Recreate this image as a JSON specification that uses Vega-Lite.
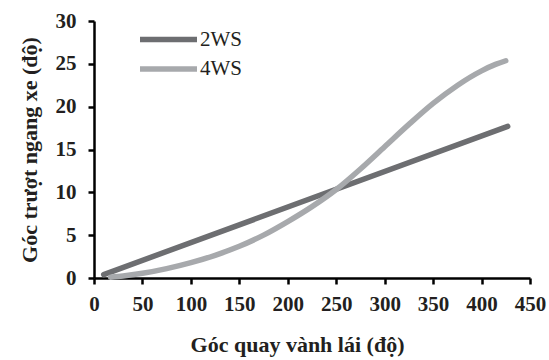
{
  "$schema": "https://vega.github.io/schema/vega-lite/v6.json",
  "width": 436,
  "height": 257,
  "autosize": {"type": "none"},
  "padding": {"left": 94, "top": 21, "right": 19, "bottom": 82},
  "background": "white",
  "config": {
    "view": {"stroke": null},
    "font": "Liberation Serif",
    "axis": {
      "grid": false,
      "domainColor": "black",
      "domainWidth": 2.5,
      "tickColor": "black",
      "tickWidth": 2.5,
      "tickSize": 6,
      "labelFlush": false,
      "labelOverlap": false,
      "labelFont": "Liberation Serif",
      "labelFontWeight": "bold",
      "labelFontSize": 21,
      "labelColor": "#231f20",
      "titleFont": "Liberation Serif",
      "titleFontWeight": "bold",
      "titleFontSize": 22,
      "titleColor": "#231f20"
    }
  },
  "data": {
    "values": [
      {"x": 10, "y": 0.4, "s": "2WS"},
      {"x": 427, "y": 17.7, "s": "2WS"},
      {"x": 17, "y": 0.1, "s": "4WS"},
      {"x": 30, "y": 0.23, "s": "4WS"},
      {"x": 50, "y": 0.55, "s": "4WS"},
      {"x": 75, "y": 1.1, "s": "4WS"},
      {"x": 100, "y": 1.8, "s": "4WS"},
      {"x": 125, "y": 2.65, "s": "4WS"},
      {"x": 150, "y": 3.7, "s": "4WS"},
      {"x": 175, "y": 5.0, "s": "4WS"},
      {"x": 200, "y": 6.58, "s": "4WS"},
      {"x": 225, "y": 8.33, "s": "4WS"},
      {"x": 250, "y": 10.33, "s": "4WS"},
      {"x": 275, "y": 12.73, "s": "4WS"},
      {"x": 300, "y": 15.33, "s": "4WS"},
      {"x": 325, "y": 17.93, "s": "4WS"},
      {"x": 350, "y": 20.38, "s": "4WS"},
      {"x": 375, "y": 22.48, "s": "4WS"},
      {"x": 400, "y": 24.18, "s": "4WS"},
      {"x": 415, "y": 24.96, "s": "4WS"},
      {"x": 425, "y": 25.36, "s": "4WS"}
    ]
  },
  "mark": {"type": "line", "strokeWidth": 5.5, "strokeCap": "round", "interpolate": "monotone"},
  "encoding": {
    "x": {
      "field": "x", "type": "quantitative",
      "scale": {"domain": [0, 450], "nice": false},
      "axis": {"values": [0, 50, 100, 150, 200, 250, 300, 350, 400, 450], "labelPadding": 9, "title": "Góc quay vành lái (độ)", "titlePadding": 20, "titleX": 203}
    },
    "y": {
      "field": "y", "type": "quantitative",
      "scale": {"domain": [0, 30], "nice": false},
      "axis": {"values": [0, 5, 10, 15, 20, 25, 30], "labelPadding": 12, "title": "Góc trượt ngang xe (độ)", "titlePadding": 14}
    },
    "color": {
      "field": "s", "type": "nominal",
      "scale": {"domain": ["2WS", "4WS"], "range": ["#6d6e71", "#a7a9ac"]},
      "legend": {
        "title": null,
        "orient": "none",
        "padding": 0,
        "legendX": 62,
        "legendY": 6,
        "symbolType": "M-3,0H3",
        "symbolSize": 361,
        "symbolStrokeWidth": 5.5,
        "labelFont": "Liberation Serif",
        "labelFontSize": 21,
        "labelColor": "#231f20",
        "labelOffset": 19,
        "rowPadding": 5.5
      }
    }
  }
}
